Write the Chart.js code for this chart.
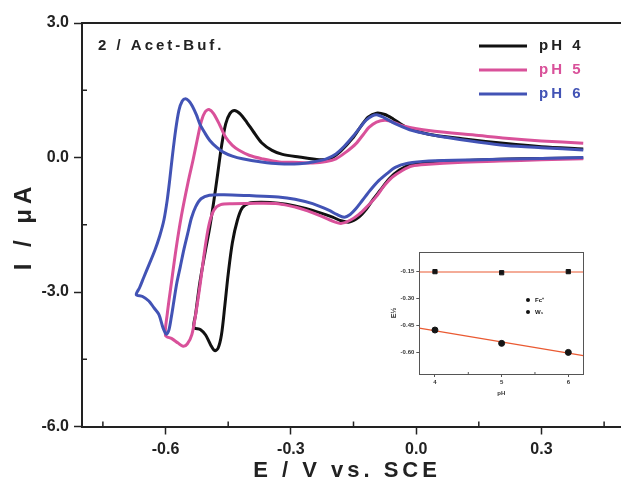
<!DOCTYPE html>
<html>
<head>
<meta charset="utf-8">
<script src="https://cdn.jsdelivr.net/npm/chart.js@4.4.0/dist/chart.umd.min.js"></script>
<style>
  html, body { margin: 0; padding: 0; background: #fff; overflow: hidden; }
  #wrap { position: relative; width: 621px; height: 488px; overflow: hidden; }
  #main { position: absolute; left: 0; top: 0; }
  #inset { position: absolute; left: 385px; top: 245px; }
</style>
</head>
<body>
<div id="wrap">
  <canvas id="main" width="640" height="488" style="width:640px;height:488px"></canvas>
  <canvas id="inset" width="205" height="155" style="width:205px;height:155px"></canvas>
</div>
<script>
// ---- main CV data (E in V vs SCE, I in uA), sweep starts at 0.4 V going negative ----
const pH4E = [0.40, 0.30, 0.20, 0.10, 0.03, -0.01, -0.04, -0.065, -0.085, -0.105, -0.12, -0.137, -0.160, -0.18, -0.20, -0.248, -0.29, -0.33, -0.37, -0.40, -0.416, -0.428, -0.440, -0.450, -0.458, -0.466, -0.474, -0.482, -0.492, -0.504, -0.516, -0.532,
  -0.528, -0.518, -0.506, -0.494, -0.484, -0.475, -0.466, -0.456, -0.446, -0.435, -0.422, -0.405, -0.39, -0.37, -0.345, -0.32, -0.28, -0.232, -0.205, -0.18, -0.153, -0.132, -0.115, -0.095, -0.075, -0.055, -0.025, 0.03, 0.11, 0.215, 0.30, 0.40];
const pH4I = [-0.01, -0.02, -0.04, -0.07, -0.10, -0.15, -0.28, -0.48, -0.72, -0.96, -1.16, -1.33, -1.44, -1.41, -1.33, -1.18, -1.08, -1.02, -1.00, -1.02, -1.12, -1.40, -1.90, -2.60, -3.30, -3.95, -4.25, -4.31, -4.18, -3.96, -3.84, -3.79,
  -3.50, -2.80, -2.15, -1.55, -0.95, -0.35, 0.25, 0.75, 0.98, 1.05, 0.98, 0.78, 0.58, 0.33, 0.16, 0.07, 0.01, -0.05, -0.02, 0.15, 0.42, 0.70, 0.90, 0.99, 0.96, 0.86, 0.68, 0.52, 0.42, 0.31, 0.24, 0.19];

const pH5E = [0.40, 0.30, 0.20, 0.10, 0.03, -0.01, -0.035, -0.057, -0.078, -0.097, -0.118, -0.137, -0.158, -0.180, -0.205, -0.232, -0.26, -0.288, -0.33, -0.38, -0.44, -0.468, -0.484, -0.496, -0.506, -0.516, -0.527, -0.537, -0.548, -0.558, -0.570, -0.585, -0.600,
  -0.596, -0.586, -0.575, -0.562, -0.546, -0.534, -0.524, -0.514, -0.505, -0.496, -0.485, -0.470, -0.456, -0.44, -0.424, -0.40, -0.368, -0.328, -0.28, -0.248, -0.215, -0.192, -0.168, -0.144, -0.126, -0.113, -0.095, -0.073, -0.05, -0.033, 0.03, 0.15, 0.215, 0.30, 0.40];
const pH5I = [-0.03, -0.05, -0.08, -0.11, -0.15, -0.19, -0.30, -0.44, -0.65, -0.89, -1.10, -1.27, -1.40, -1.47, -1.40, -1.29, -1.19, -1.11, -1.03, -1.02, -1.03, -1.05, -1.17, -1.50, -2.05, -2.75, -3.45, -3.95, -4.16, -4.21, -4.14, -4.04, -3.97,
  -3.50, -2.80, -2.05, -1.30, -0.55, -0.05, 0.40, 0.82, 1.02, 1.07, 0.98, 0.72, 0.45, 0.27, 0.16, 0.05, -0.03, -0.10, -0.11, -0.12, -0.09, -0.03, 0.12, 0.31, 0.52, 0.67, 0.79, 0.83, 0.77, 0.71, 0.60, 0.49, 0.43, 0.37, 0.32];

const pH6E = [0.40, 0.30, 0.15, 0.03, -0.02, -0.05, -0.07, -0.089, -0.11, -0.129, -0.145, -0.158, -0.172, -0.19, -0.208, -0.248, -0.29, -0.33, -0.40, -0.46, -0.495, -0.515, -0.528, -0.538, -0.547, -0.556, -0.565, -0.573, -0.580, -0.586, -0.592, -0.598, -0.606, -0.616, -0.628, -0.640, -0.655, -0.670,
  -0.662, -0.652, -0.640, -0.626, -0.614, -0.604, -0.596, -0.590, -0.584, -0.576, -0.568, -0.560, -0.552, -0.544, -0.536, -0.526, -0.518, -0.506, -0.494, -0.478, -0.462, -0.44, -0.416, -0.37, -0.328, -0.28, -0.248, -0.215, -0.192, -0.172, -0.153, -0.136, -0.12, -0.105, -0.092, -0.075, -0.049, -0.009, 0.071, 0.151, 0.215, 0.30, 0.40];
const pH6I = [0.00, -0.02, -0.05, -0.08, -0.13, -0.22, -0.36, -0.51, -0.73, -0.96, -1.15, -1.27, -1.33, -1.27, -1.18, -1.03, -0.93, -0.88, -0.85, -0.83, -0.84, -0.92, -1.10, -1.35, -1.70, -2.05, -2.45, -2.80, -3.20, -3.55, -3.85, -3.94, -3.80, -3.50, -3.35, -3.20, -3.10, -3.06,
  -2.90, -2.67, -2.40, -2.08, -1.75, -1.40, -0.95, -0.50, 0.00, 0.60, 1.05, 1.26, 1.31, 1.26, 1.15, 0.95, 0.75, 0.55, 0.38, 0.23, 0.12, 0.03, -0.03, -0.10, -0.14, -0.14, -0.10, -0.03, 0.08, 0.25, 0.45, 0.65, 0.83, 0.93, 0.95, 0.88, 0.75, 0.60, 0.45, 0.34, 0.27, 0.22, 0.17];

const seriesNames = ["pH 4", "pH 5", "pH 6"];
const seriesColors = ["#111111", "#d9519a", "#4253b5"];

const xTicks = [-0.6, -0.3, 0.0, 0.3];
const xMinorTicks = [-0.75, -0.45, -0.15, 0.15, 0.45];
const yTicks = [-6.0, -3.0, 0.0, 3.0];
const yMinorTicks = [-4.5, -1.5, 1.5];

// ---- inset data: peak potentials vs pH ----
const insetPH = [4, 5, 6];
const fcE = [-0.150, -0.156, -0.150];
const wE = [-0.474, -0.548, -0.598];
const fitPH = [3.765, 6.225];
const fcFit = [-0.152, -0.152];
const wFit = [-0.463, -0.616];
const insetXTicks = [4, 5, 6];
const insetXMinor = [4.5, 5.5];
const insetYTicks = [-0.60, -0.45, -0.30, -0.15];

const toPoints = (xs, ys) => xs.map((x, i) => ({ x: x, y: ys[i] }));
const FONT = "'Liberation Sans', Arial, sans-serif";
const AXIS = "#222";

const minorTickPlugin = {
  id: "minorTicks",
  afterDraw(chart, args, opts) {
    const ctx = chart.ctx;
    const xs = chart.scales.x, ys = chart.scales.y;
    ctx.save();
    ctx.strokeStyle = opts.color;
    ctx.lineWidth = opts.width;
    ctx.beginPath();
    opts.xMinor.forEach(v => {
      const px = xs.getPixelForValue(v);
      ctx.moveTo(px, xs.top);
      ctx.lineTo(px, xs.top - opts.len);
    });
    opts.yMinor.forEach(v => {
      const py = ys.getPixelForValue(v);
      ctx.moveTo(ys.right, py);
      ctx.lineTo(ys.right + opts.len, py);
    });
    ctx.stroke();
    ctx.restore();
  }
};

const labelsPlugin = {
  id: "mainLabels",
  afterDraw(chart) {
    const ctx = chart.ctx;
    ctx.save();
    ctx.fillStyle = AXIS;
    ctx.textBaseline = "middle";
    ctx.font = "bold 15px " + FONT;
    ctx.letterSpacing = "3px";
    ctx.textAlign = "left";
    ctx.fillText("2 / Acet-Buf.", 98, 46);

    // legend
    seriesNames.forEach((name, i) => {
      const y = 46 + i * 24;
      ctx.strokeStyle = seriesColors[i];
      ctx.lineWidth = 3;
      ctx.beginPath();
      ctx.moveTo(479, y);
      ctx.lineTo(527, y);
      ctx.stroke();
      ctx.fillStyle = i === 0 ? AXIS : seriesColors[i];
      ctx.fillText(name, 539, y);
    });

    // axis titles
    ctx.fillStyle = AXIS;
    ctx.font = "bold 22px " + FONT;
    ctx.letterSpacing = "4px";
    ctx.textAlign = "center";
    ctx.fillText("E / V vs. SCE", 347, 471);
    ctx.font = "bold 24px " + FONT;
    ctx.letterSpacing = "5px";
    ctx.translate(24, 226);
    ctx.rotate(-Math.PI / 2);
    ctx.fillText("I / \u03bcA", 0, 0);
    ctx.restore();
  }
};

const datasets = [
  toPoints(pH4E, pH4I),
  toPoints(pH5E, pH5I),
  toPoints(pH6E, pH6I)
].map((pts, i) => ({
  label: seriesNames[i],
  data: pts,
  showLine: true,
  borderColor: seriesColors[i],
  borderWidth: 3,
  pointRadius: 0,
  tension: 0.3,
  fill: false
}));
// pH 6 ends up on top, as in the original
datasets.reverse();

new Chart(document.getElementById("main"), {
  type: "scatter",
  data: { datasets: datasets },
  options: {
    responsive: false,
    animation: false,
    layout: { padding: { left: 0, top: 23, right: 15, bottom: 0 } },
    plugins: {
      legend: { display: false },
      tooltip: { enabled: false },
      minorTicks: { xMinor: xMinorTicks, yMinor: yMinorTicks, len: 5, width: 1.5, color: AXIS }
    },
    scales: {
      x: {
        type: "linear", position: "bottom", min: -0.8, max: 0.5,
        afterFit: s => { s.height = 61.5; },
        afterBuildTicks: s => { s.ticks = xTicks.map(v => ({ value: v })); },
        ticks: { callback: v => v.toFixed(1), color: AXIS, padding: 5, maxRotation: 0, font: { family: FONT, weight: "bold", size: 16 } },
        grid: { drawOnChartArea: false, tickLength: 8, tickWidth: 1.5, color: AXIS },
        border: { color: AXIS, width: 2 }
      },
      x2: {
        type: "linear", position: "top", min: -0.8, max: 0.5,
        afterFit: s => { s.height = 0; },
        ticks: { display: false },
        grid: { display: false },
        border: { color: AXIS, width: 2 }
      },
      y: {
        type: "linear", position: "left", min: -6, max: 3,
        afterFit: s => { s.width = 82; },
        afterBuildTicks: s => { s.ticks = yTicks.map(v => ({ value: v })); },
        ticks: { callback: v => v.toFixed(1), color: AXIS, padding: 5, font: { family: FONT, weight: "bold", size: 16 } },
        grid: { drawOnChartArea: false, tickLength: 8, tickWidth: 1.5, color: AXIS },
        border: { color: AXIS, width: 2 }
      }
    }
  },
  plugins: [minorTickPlugin, labelsPlugin]
});

// ---------------- inset ----------------
const FIT = "#ea5a32";
const INK = "#333";

const insetLegendPlugin = {
  id: "insetLegend",
  afterDraw(chart) {
    const ctx = chart.ctx;
    ctx.save();
    ctx.fillStyle = "#111";
    [["Fc\u207a", 55], ["W\u2081", 67]].forEach(([txt, y]) => {
      ctx.beginPath();
      ctx.arc(143, y, 2, 0, Math.PI * 2);
      ctx.fill();
      ctx.font = "bold 6px " + FONT;
      ctx.textBaseline = "middle";
      ctx.fillText(txt, 150, y);
    });
    ctx.restore();
  }
};

new Chart(document.getElementById("inset"), {
  type: "scatter",
  data: {
    datasets: [
      { data: toPoints(insetPH, fcE), pointStyle: "rect", pointRadius: 3, backgroundColor: "#151515", borderColor: "#151515", showLine: false },
      { data: toPoints(insetPH, wE), pointStyle: "circle", pointRadius: 3, backgroundColor: "#151515", borderColor: "#151515", showLine: false },
      { data: toPoints(fitPH, fcFit), showLine: true, pointRadius: 0, borderColor: FIT, borderWidth: 1.2 },
      { data: toPoints(fitPH, wFit), showLine: true, pointRadius: 0, borderColor: FIT, borderWidth: 1.2 }
    ]
  },
  options: {
    responsive: false,
    animation: false,
    layout: { padding: { left: 0, top: 7, right: 6.7, bottom: 0 } },
    plugins: {
      legend: { display: false },
      tooltip: { enabled: false },
      minorTicks: { xMinor: insetXMinor, yMinor: [], len: 2, width: 1, color: "#555" }
    },
    scales: {
      x: {
        type: "linear", position: "bottom", min: 3.765, max: 6.225,
        afterFit: s => { s.height = 26; },
        afterBuildTicks: s => { s.ticks = insetXTicks.map(v => ({ value: v })); },
        ticks: { callback: v => String(v), color: INK, padding: 2, maxRotation: 0, font: { family: FONT, weight: "bold", size: 6 } },
        title: { display: true, text: "pH", color: INK, padding: { top: 0, bottom: 3 }, font: { family: FONT, weight: "bold", size: 6 } },
        grid: { drawOnChartArea: false, tickLength: 3, color: "#555" },
        border: { color: "#555", width: 1 }
      },
      x2: {
        type: "linear", position: "top", min: 3.765, max: 6.225,
        afterFit: s => { s.height = 0; },
        ticks: { display: false }, grid: { display: false },
        border: { color: "#555", width: 1 }
      },
      y: {
        type: "linear", position: "left", min: -0.718, max: -0.041,
        afterFit: s => { s.width = 34.3; },
        afterBuildTicks: s => { s.ticks = insetYTicks.map(v => ({ value: v })); },
        ticks: { callback: v => v.toFixed(2), color: INK, padding: 2, font: { family: FONT, weight: "bold", size: 6 } },
        title: { display: true, text: "E\u00bd", color: INK, padding: { top: 5, bottom: 0 }, font: { family: FONT, weight: "bold", size: 7 } },
        grid: { drawOnChartArea: false, tickLength: 3, color: "#555" },
        border: { color: "#555", width: 1 }
      },
      y2: {
        type: "linear", position: "right", min: -0.718, max: -0.041,
        afterFit: s => { s.width = 0; },
        ticks: { display: false }, grid: { display: false },
        border: { color: "#555", width: 1 }
      }
    }
  },
  plugins: [minorTickPlugin, insetLegendPlugin]
});
</script>
</body>
</html>
